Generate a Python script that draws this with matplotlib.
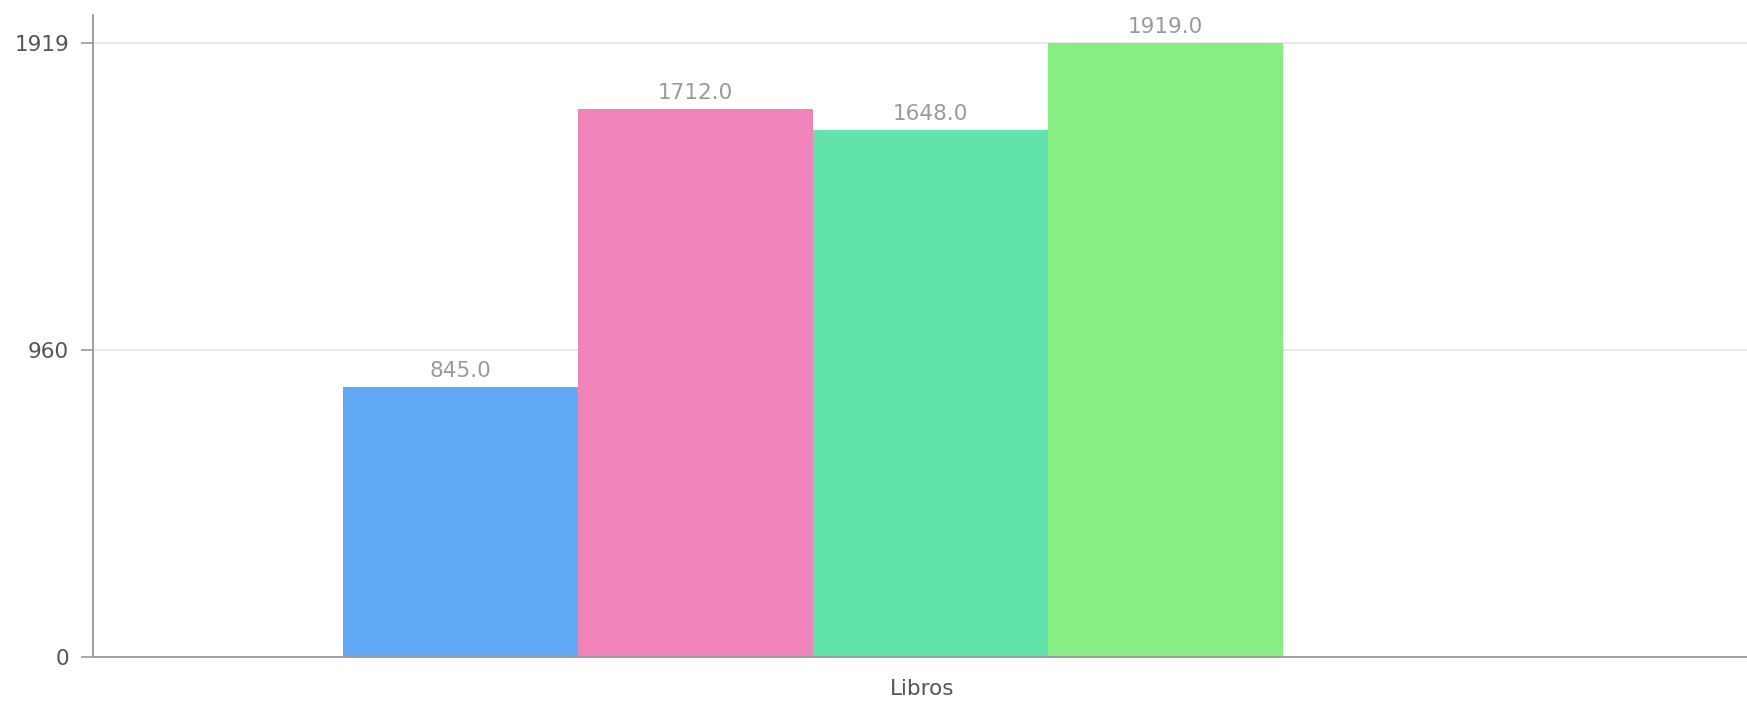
import numpy as np
import matplotlib
matplotlib.use("Agg")
import matplotlib.pyplot as plt

## DATA ##
categories = ["Libros"]
values = [845.0, 1712.0, 1648.0, 1919.0]
colors = ["#61A9F4", "#F183BB", "#62E3AC", "#87EE84"]
yticks = [0, 960, 1919]

fig = plt.figure(figsize=(17.47, 7.02), dpi=100)
ax = fig.add_axes([93 / 1747, 45 / 702, 1 - 93 / 1747, (657 - 15) / 702])

## BARS (group shifted left of the category centre, as in the original) ##
bar_w = 1.0
group_start = -2.466
for i, (v, c) in enumerate(zip(values, colors)):
    x0 = group_start + i * bar_w
    ax.bar(x0, v, width=bar_w, align="edge", color=c, zorder=2, linewidth=0)
    ax.annotate(f"{v:.1f}", (x0 + bar_w / 2, v), xytext=(0, 7.2),
                textcoords="offset points", ha="center", va="baseline",
                fontsize=15.5, color="#9a9a9a")

ax.set_xlim(-3.53, 3.51)
ax.set_ylim(0, 1919 * 642 / 614)
ax.set_xticks([0])
ax.set_xticklabels(categories)
ax.set_yticks(yticks)
ax.set_yticklabels([str(t) for t in yticks])

ax.tick_params(axis="x", length=0, pad=16, labelsize=15.5, labelcolor="#555555")
ax.tick_params(axis="y", length=8.6, width=1.2, color="#999999", pad=8.6,
               labelsize=15.5, labelcolor="#555555")

ax.grid(axis="y", color="#e4e4e4", linewidth=1.2, zorder=0)
ax.set_axisbelow(True)
for s in ["top", "right"]:
    ax.spines[s].set_visible(False)
for s in ["left", "bottom"]:
    ax.spines[s].set_color("#999999")
    ax.spines[s].set_linewidth(1.3)
    ax.spines[s].set_zorder(3)

fig.savefig("out.png", dpi=100)
